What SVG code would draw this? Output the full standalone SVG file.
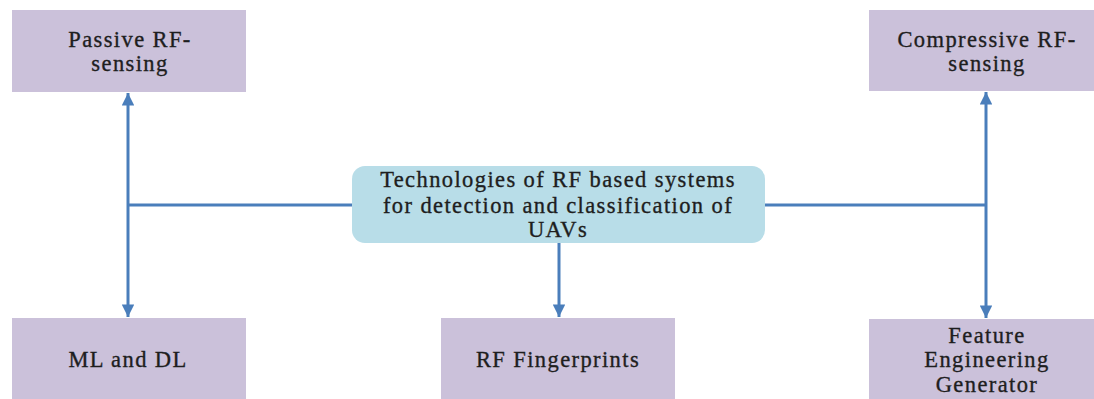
<svg xmlns="http://www.w3.org/2000/svg" width="1094" height="399" viewBox="0 0 1094 399">
<defs>
<style>
.box{fill:#cbc1da;}
.hub{fill:#b8dde8;}
.t{font-family:"Liberation Serif","Times New Roman",serif;font-size:22.5px;fill:#1e1e1e;stroke:#1e1e1e;stroke-width:0.35px;text-anchor:middle;letter-spacing:1.4px;}
.c{stroke:#4a7ebb;stroke-width:3;fill:none;}
</style>
<marker id="ah" viewBox="0 0 10 10" refX="10" refY="5" markerWidth="4.2" markerHeight="4.2" markerUnits="strokeWidth" orient="auto-start-reverse">
<path d="M0,0 L10,5 L0,10 z" fill="#4a7ebb"/>
</marker>
</defs>
<rect width="1094" height="399" fill="#fff"/>
<g id="connectors">
<line class="c" x1="128" y1="205" x2="352" y2="205"/>
<line class="c" x1="765" y1="205" x2="986" y2="205"/>
<line class="c" x1="128" y1="205" x2="128" y2="93" marker-end="url(#ah)"/>
<line class="c" x1="128" y1="205" x2="128" y2="317" marker-end="url(#ah)"/>
<line class="c" x1="986" y1="205" x2="986" y2="92" marker-end="url(#ah)"/>
<line class="c" x1="986" y1="205" x2="986" y2="318" marker-end="url(#ah)"/>
<line class="c" x1="559" y1="243" x2="559" y2="317" marker-end="url(#ah)"/>
</g>
<g id="passive">
<rect class="box" x="12" y="10" width="234" height="82"/>
<text class="t" x="130" y="47">Passive RF-</text>
<text class="t" x="130" y="71">sensing</text>
</g>
<g id="compressive">
<rect class="box" x="869" y="10" width="225" height="81"/>
<text class="t" x="987" y="47">Compressive RF-</text>
<text class="t" x="987" y="71">sensing</text>
</g>
<g id="hub">
<rect class="hub" x="352" y="166" width="413" height="77" rx="13"/>
<text class="t" x="558" y="187">Technologies of RF based systems</text>
<text class="t" x="558" y="213">for detection and classification of</text>
<text class="t" x="558" y="237">UAVs</text>
</g>
<g id="mldl">
<rect class="box" x="12" y="318" width="234" height="81"/>
<text class="t" x="128" y="367">ML  and DL</text>
</g>
<g id="fingerprints">
<rect class="box" x="441" y="318" width="234" height="81"/>
<text class="t" x="558" y="367">RF Fingerprints</text>
</g>
<g id="feature">
<rect class="box" x="869" y="319" width="225" height="80"/>
<text class="t" x="987" y="343">Feature</text>
<text class="t" x="987" y="367">Engineering</text>
<text class="t" x="987" y="392">Generator</text>
</g>
</svg>
